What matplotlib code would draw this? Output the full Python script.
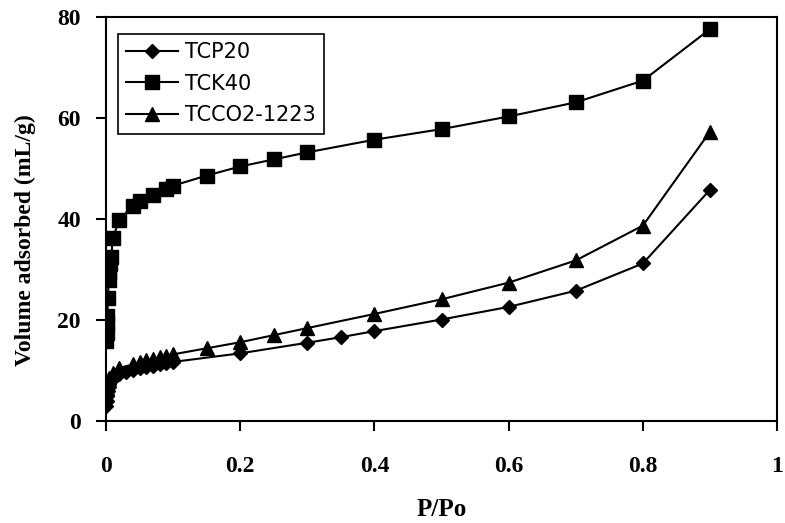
import matplotlib.pyplot as plt

# Isotherm data (P/Po vs volume adsorbed, mL/g)
tcp20_x = [0.0005, 0.001, 0.002, 0.003, 0.004, 0.005, 0.007, 0.01, 0.02, 0.03,
           0.04, 0.05, 0.06, 0.07, 0.08, 0.09, 0.1, 0.2, 0.3, 0.35, 0.4, 0.5,
           0.6, 0.7, 0.8, 0.9]
tcp20_y = [3.0, 4.0, 5.0, 6.0, 6.8, 7.5, 8.0, 8.5, 9.3, 9.7,
           10.1, 10.4, 10.7, 10.9, 11.2, 11.4, 11.7, 13.4, 15.5, 16.6, 17.8, 20.1,
           22.6, 25.8, 31.2, 45.8]

tck40_x = [0.0005, 0.001, 0.0015, 0.002, 0.003, 0.004, 0.005, 0.006, 0.008, 0.01,
           0.02, 0.04, 0.05, 0.07, 0.09, 0.1, 0.15, 0.2, 0.25, 0.3, 0.4, 0.5,
           0.6, 0.7, 0.8, 0.9]
tck40_y = [15.8, 17.5, 19.5, 20.8, 24.3, 28.0, 29.5, 31.0, 32.5, 36.2,
           39.8, 42.6, 43.6, 44.8, 46.0, 46.6, 48.6, 50.4, 51.8, 53.2, 55.7, 57.8,
           60.3, 63.1, 67.4, 77.6]

tcco2_x = [0.002, 0.005, 0.01, 0.02, 0.04, 0.05, 0.06, 0.07, 0.08, 0.09, 0.1,
           0.15, 0.2, 0.25, 0.3, 0.4, 0.5, 0.6, 0.7, 0.8, 0.9]
tcco2_y = [6.5, 8.5, 9.5, 10.5, 11.2, 11.6, 12.0, 12.3, 12.6, 12.9, 13.2,
           14.4, 15.6, 17.0, 18.4, 21.2, 24.1, 27.4, 31.8, 38.7, 57.3]

serif = "Liberation Serif"

fig = plt.figure(figsize=(7.85, 5.23), dpi=100)
ax = fig.add_axes([0.135, 0.195, 0.855, 0.7725])

ax.plot(tcp20_x, tcp20_y, color="black", lw=1.5, marker="D", ms=6.8,
        label="TCP20")
ax.plot(tck40_x, tck40_y, color="black", lw=1.5, marker="s", ms=10,
        label="TCK40")
ax.plot(tcco2_x, tcco2_y, color="black", lw=1.5, marker="^", ms=10,
        label="TCCO2-1223")

ax.set_xlim(0, 1)
ax.set_ylim(0, 80)
ax.set_xticks([0, 0.2, 0.4, 0.6, 0.8, 1])
ax.set_xticklabels(["0", "0.2", "0.4", "0.6", "0.8", "1"])
ax.set_yticks([0, 20, 40, 60, 80])

for lab in ax.get_xticklabels() + ax.get_yticklabels():
    lab.set_fontfamily(serif)
    lab.set_fontweight("bold")
    lab.set_fontsize(17)

ax.tick_params(direction="out", length=7, width=1.5, colors="black")
ax.tick_params(axis="x", pad=18)
ax.tick_params(axis="y", pad=11)
for sp in ax.spines.values():
    sp.set_linewidth(1.5)

ax.set_xlabel("P/Po", fontfamily=serif, fontweight="bold", fontsize=18,
              labelpad=15)
ax.set_ylabel("Volume adsorbed (mL/g)", fontfamily=serif, fontweight="bold",
              fontsize=17)
ax.yaxis.set_label_coords(-0.105, 0.448)

leg = ax.legend(loc="upper left", bbox_to_anchor=(0.018, 0.958),
                borderaxespad=0, fancybox=False, edgecolor="black",
                framealpha=1, handlelength=2.5, borderpad=0.4,
                labelspacing=0.55, handletextpad=0.3,
                prop={"family": "DejaVu Sans", "size": 15})
leg.get_frame().set_linewidth(1.2)

fig.savefig("out.png", dpi=100)
